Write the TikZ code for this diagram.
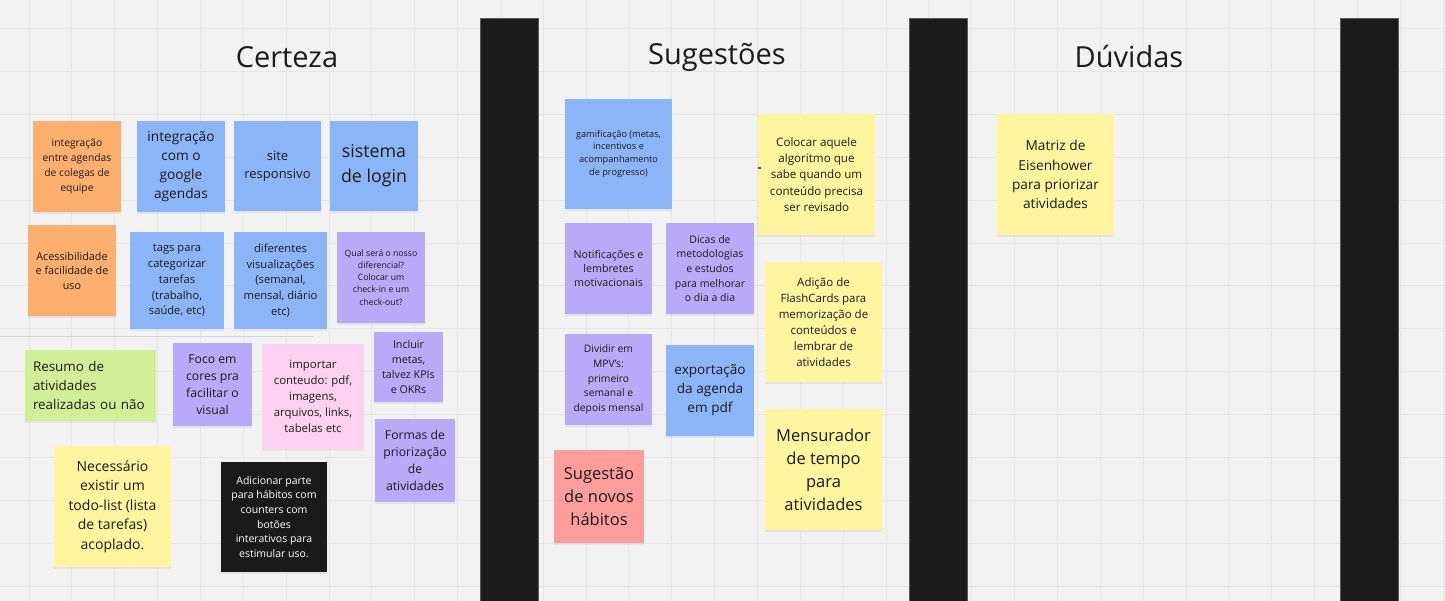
\documentclass[tikz,border=0pt]{standalone}
\usepackage{fontspec}
\setmainfont{Open Sans}
\usepackage{xcolor}
\usepackage{tikz}
\usetikzlibrary{shadows}

\definecolor{board}{HTML}{F2F2F2}
\definecolor{gridcol}{HTML}{E5E5E5}
\definecolor{pillarcol}{HTML}{1B1B1B}
\definecolor{pillarline}{HTML}{5A5A5A}
\definecolor{ink}{HTML}{1C1C1C}
\definecolor{orangenote}{HTML}{FDAF70}
\definecolor{bluenote}{HTML}{8CB5F7}
\definecolor{purplenote}{HTML}{B8AAF7}
\definecolor{pinknote}{HTML}{FDD1EF}
\definecolor{greennote}{HTML}{D3EE98}
\definecolor{yellownote}{HTML}{FFF49F}
\definecolor{rednote}{HTML}{FD9E9C}
\definecolor{blacknote}{HTML}{1A1A1A}

\newcommand\fsz[2]{\fontsize{#1}{#2}\selectfont}

\begin{document}
\begin{tikzpicture}[x=1pt, y=-1pt,
  gridline/.style={draw=gridcol, line width=0.9pt},
  pillar/.style={fill=pillarcol, draw=pillarline, line width=0.6pt},
  coltitle/.style={font=\fsz{29}{34}, text=ink},
  sticky/.style={rectangle, inner sep=0pt, align=center, text=ink,
    drop shadow={shadow xshift=0pt, shadow yshift=-2pt, opacity=.13}}]

% BOARD
  \useasboundingbox (0,0) rectangle (1445,601);
  \fill[board] (0,0) rectangle (1445,601);

% GRID
  \foreach \i in {0,...,33}
      \draw[gridline] ({29+42.85*\i},0) -- ++(0,601);
  \foreach \j in {0,...,13}
      \draw[gridline] (0,{28.5+42.9*\j}) -- ++(1445,0);
  \draw[draw=gridcol!93!black, line width=0.8pt] (0,336.5) -- (313,336.5);

% COLUMN SEPARATORS
  \draw[pillar] (480,18) rectangle (538,610);
  \draw[pillar] (909.5,18) rectangle (967,610);
  \draw[pillar] (1340.5,18) rectangle (1398,610);

% TITLES
  \node[coltitle] (certeza) at (287,57) {Certeza};
  \node[coltitle] (sugestoes) at (717,57) {Sugestões};
  \node[coltitle] (duvidas) at (1129,57) {Dúvidas};

% CERTEZA
  \node[sticky, fill=orangenote, minimum width=88, minimum height=91, font=\fsz{10.3}{14.7}]
      (agendas) at (77,166.5) {integração\\entre agendas\\de colegas de\\equipe};
  \node[sticky, fill=bluenote, minimum width=88, minimum height=91, font=\fsz{13.7}{19.2}]
      (google) at (181,166.5) {integração\\com o\\google\\agendas};
  \node[sticky, fill=bluenote, minimum width=87, minimum height=90, font=\fsz{13}{18.3}]
      (site) at (277.5,166) {site\\responsivo};
  \node[sticky, fill=bluenote, minimum width=88, minimum height=90, font=\fsz{17.8}{25}]
      (login) at (374,166) {sistema\\de login};

  \node[sticky, fill=orangenote, minimum width=88, minimum height=91, font=\fsz{10.8}{14.5}]
      (acessib) at (72,270.5) {Acessibilidade\\e facilidade de\\uso};
  \node[sticky, fill=bluenote, minimum width=94, minimum height=97, font=\fsz{11.2}{15.7}]
      (tags) at (177,280.5) {tags para\\categorizar\\tarefas\\(trabalho,\\saúde, etc)};
  \node[sticky, fill=bluenote, minimum width=93, minimum height=97, font=\fsz{11.2}{15.7}]
      (visual) at (280.5,280.5) {diferentes\\visualizações\\(semanal,\\mensal, diário\\etc)};
  \node[sticky, fill=purplenote, minimum width=88, minimum height=91, font=\fsz{8.7}{12.2}]
      (diferencial) at (381,277.5) {Qual será o nosso\\diferencial?\\Colocar um\\check-in e um\\check-out?};

  \node[sticky, fill=greennote, minimum width=131, minimum height=71, text width=115,
      align=left, font=\fsz{13.4}{18.8}]
      (resumo) at (90.5,385.5) {Resumo de\\atividades\\realizadas ou não};
  \node[sticky, fill=purplenote, minimum width=79, minimum height=83, font=\fsz{12.2}{17.1}]
      (cores) at (212.5,384.5) {Foco em\\cores pra\\facilitar o\\visual};
  \node[sticky, fill=pinknote, minimum width=102, minimum height=105, font=\fsz{11.4}{15.9}]
      (importar) at (313,396.5) {importar\\conteudo: pdf,\\imagens,\\arquivos, links,\\tabelas etc};
  \node[sticky, fill=purplenote, minimum width=69, minimum height=70, font=\fsz{10.7}{15}]
      (metas) at (408.5,367) {Incluir\\metas,\\talvez KPIs\\e OKRs};
  \node[sticky, fill=purplenote, minimum width=80, minimum height=83, font=\fsz{12.2}{17.1}]
      (priorizacao) at (415,460.5) {Formas de\\priorização\\de\\atividades};
  \node[sticky, fill=yellownote, minimum width=117, minimum height=121, font=\fsz{14}{19.5}]
      (todo) at (112.5,506.5) {Necessário\\existir um\\todo-list (lista\\de tarefas)\\acoplado.};
  \node[sticky, fill=blacknote, text=white, minimum width=106, minimum height=110, font=\fsz{10.5}{14.7}]
      (habitos) at (274,517) {Adicionar parte\\para hábitos com\\counters com\\botões\\interativos para\\estimular uso.};

% SUGESTOES
  \node[sticky, fill=bluenote, minimum width=107, minimum height=110, font=\fsz{9.2}{12.9}]
      (gamif) at (618.5,154) {gamificação (metas,\\incentivos e\\acompanhamento\\de progresso)};
  \node[sticky, fill=yellownote, minimum width=117, minimum height=121, font=\fsz{11.6}{16.2}]
      (algoritmo) at (816.5,174.5) {Colocar aquele\\algoritmo que\\sabe quando um\\conteúdo precisa\\ser revisado};
  \draw[pillarline, line width=1.2pt] ([yshift=6.5pt]algoritmo.west) -- ++(3,0);
  \node[sticky, fill=purplenote, minimum width=87, minimum height=91, font=\fsz{10.7}{14.3}]
      (notif) at (608.5,268.5) {Notificações e\\lembretes\\motivacionais};
  \node[sticky, fill=purplenote, minimum width=88, minimum height=91, font=\fsz{10.5}{14.7}]
      (dicas) at (710,268.5) {Dicas de\\metodologias\\e estudos\\para melhorar\\o dia a dia};
  \node[sticky, fill=yellownote, minimum width=117, minimum height=120, font=\fsz{11.5}{16}]
      (flash) at (823.5,322) {Adição de\\FlashCards para\\memorização de\\conteúdos e\\lembrar de\\atividades};
  \node[sticky, fill=purplenote, minimum width=87, minimum height=91, font=\fsz{10.3}{14.6}]
      (mpv) at (608.5,379.5) {Dividir em\\MPV's:\\primeiro\\semanal e\\depois mensal};
  \node[sticky, fill=bluenote, minimum width=88, minimum height=91, font=\fsz{13.6}{19}]
      (exportar) at (710,390.5) {exportação\\da agenda\\em pdf};
  \node[sticky, fill=yellownote, minimum width=117, minimum height=121, font=\fsz{16.5}{23}]
      (tempo) at (823.5,469.5) {Mensurador\\de tempo\\para\\atividades};
  \node[sticky, fill=rednote, minimum width=90, minimum height=93, font=\fsz{16.5}{23}]
      (novos) at (599,496.5) {Sugestão\\de novos\\hábitos};

% DUVIDAS
  \node[sticky, fill=yellownote, minimum width=117, minimum height=121, font=\fsz{13.7}{19.2}]
      (eisenhower) at (1055.5,174.5) {Matriz de\\Eisenhower\\para priorizar\\atividades};

\end{tikzpicture}
\end{document}
